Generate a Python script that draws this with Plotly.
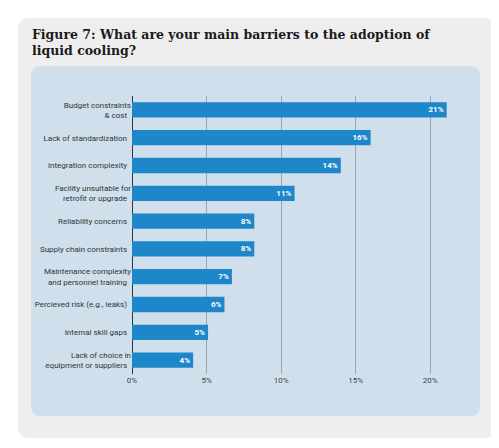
import plotly.graph_objects as go

categories = [
    "Budget constraints<br>& cost",
    "Lack of standardization",
    "Integration complexity",
    "Facility unsuitable for<br>retrofit or upgrade",
    "Reliability concerns",
    "Supply chain constraints",
    "Maintenance complexity<br>and personnel training",
    "Percieved risk (e.g., leaks)",
    "Internal skill gaps",
    "Lack of choice in<br>equipment or suppliers",
]
values = [21.1, 16.0, 14.0, 10.9, 8.2, 8.2, 6.7, 6.2, 5.1, 4.1]
labels = ["21%", "16%", "14%", "11%", "8%", "8%", "7%", "6%", "5%", "4%"]
tick_vals = [0, 5, 10, 15, 20]
tick_text = ["0%", "5%", "10%", "15%", "20%"]

W, H = 499, 448
L, R, T, B = 124, 32, 88, 82
pw, ph = W - L - R, H - T - B


def px2paper(x, y):
    return (x - L) / pw, (H - B - y) / ph


def rounded(x0, y0, x1, y1, r):
    def p(x, y):
        u, v = px2paper(x, y)
        return f"{u:.5f},{v:.5f}"
    return (f"M {p(x0 + r, y0)} L {p(x1 - r, y0)} Q {p(x1, y0)} {p(x1, y0 + r)} "
            f"L {p(x1, y1 - r)} Q {p(x1, y1)} {p(x1 - r, y1)} L {p(x0 + r, y1)} "
            f"Q {p(x0, y1)} {p(x0, y1 - r)} L {p(x0, y0 + r)} Q {p(x0, y0)} {p(x0 + r, y0)} Z")


fig = go.Figure(go.Bar(
    x=values, y=categories, orientation="h",
    marker=dict(color="#1e87c9", line=dict(width=0)),
    text=[f"<b>{t}</b>" for t in labels], textposition="inside", insidetextanchor="end",
    textfont=dict(color="white", size=8, family="Roboto"),
    width=0.55,
))

fig.update_layout(
    width=W, height=H,
    margin=dict(l=L, r=R, t=T, b=B, autoexpand=False),
    paper_bgcolor="white", plot_bgcolor="rgba(0,0,0,0)",
    showlegend=False,
    font=dict(family="Roboto", size=8, color="#333333"),
    shapes=[
        dict(type="path", xref="paper", yref="paper", layer="below",
             path=rounded(10, 10, 488, 430, 12), fillcolor="#eeeeee", line=dict(width=0)),
        dict(type="path", xref="paper", yref="paper", layer="below",
             path=rounded(23, 58, 472, 408, 10), fillcolor="#cfe0ec", line=dict(width=0)),
    ],
    annotations=[dict(
        text="<b>Figure 7: What are your main barriers to the adoption of<br>liquid cooling?</b>",
        xref="paper", yref="paper", x=px2paper(22, 0)[0], y=px2paper(0, 17)[1],
        xanchor="left", yanchor="top", align="left", showarrow=False,
        font=dict(family="DejaVu Serif", size=12.5, color="#1a1a1a"),
    )],
)
fig.update_xaxes(range=[0, 23], tickvals=tick_vals, ticktext=tick_text, automargin=False,
                 showgrid=True, gridcolor="#9aa6ae", gridwidth=1,
                 zeroline=True, zerolinecolor="#333333", zerolinewidth=1,
                 tickfont=dict(size=8, color="#444444"))
fig.update_yaxes(autorange="reversed", ticksuffix="  ", automargin=False,
                 tickfont=dict(size=8, color="#333333"))

fig.write_html("out.html")
